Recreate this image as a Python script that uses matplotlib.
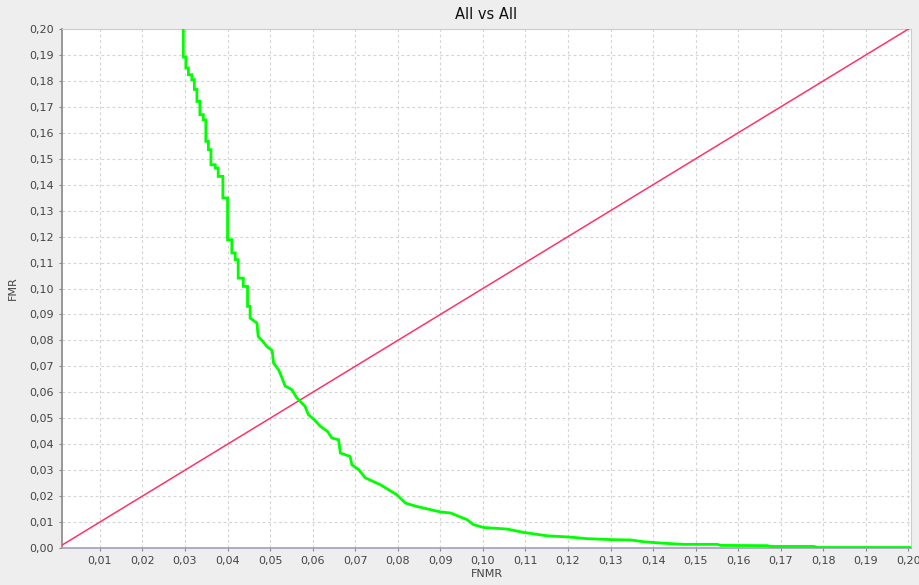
import numpy as np
import matplotlib.pyplot as plt
from matplotlib.ticker import FuncFormatter, MultipleLocator

# DET curve (FNMR, FMR)
fnmr = [0.0296, 0.0296, 0.0302, 0.0302, 0.0308, 0.0308, 0.0316, 0.0316, 0.0322, 0.0322,
        0.0328, 0.0328, 0.0335, 0.0335, 0.0343, 0.0343, 0.0349, 0.0349, 0.0355, 0.0355,
        0.0361, 0.0361, 0.0371, 0.0371, 0.0378, 0.0378, 0.0389, 0.0389, 0.0400, 0.0400,
        0.0410, 0.0410, 0.0418, 0.0418, 0.0425, 0.0425, 0.0437, 0.0437, 0.0447, 0.0447,
        0.0453, 0.0453, 0.0469, 0.0472, 0.0483, 0.0492, 0.0505, 0.0508, 0.0520, 0.0528,
        0.0535, 0.0551, 0.0563, 0.0582, 0.0590, 0.0604, 0.0618, 0.0635, 0.0645, 0.0661,
        0.0665, 0.0688, 0.0692, 0.0708, 0.0724, 0.0759, 0.0798, 0.0818, 0.0845, 0.0900,
        0.0924, 0.0963, 0.0978, 0.1002, 0.1057, 0.1096, 0.1151, 0.1206, 0.1245, 0.1308,
        0.1347, 0.1378, 0.1418, 0.1472, 0.1551, 0.1559, 0.1669, 0.1676, 0.1778, 0.1786,
        0.2006]
fmr = [0.2000, 0.1892, 0.1892, 0.1850, 0.1850, 0.1824, 0.1824, 0.1805, 0.1805, 0.1767,
       0.1767, 0.1721, 0.1721, 0.1670, 0.1670, 0.1650, 0.1650, 0.1567, 0.1567, 0.1535,
       0.1535, 0.1477, 0.1477, 0.1464, 0.1464, 0.1432, 0.1432, 0.1349, 0.1349, 0.1188,
       0.1188, 0.1137, 0.1137, 0.1111, 0.1111, 0.1040, 0.1040, 0.1008, 0.1008, 0.0931,
       0.0931, 0.0886, 0.0867, 0.0815, 0.0796, 0.0777, 0.0761, 0.0713, 0.0687, 0.0655,
       0.0625, 0.0610, 0.0578, 0.0546, 0.0514, 0.0494, 0.0469, 0.0449, 0.0424, 0.0417,
       0.0366, 0.0353, 0.0321, 0.0302, 0.0270, 0.0244, 0.0205, 0.0173, 0.0160, 0.0139,
       0.0135, 0.0109, 0.0090, 0.0079, 0.0073, 0.0060, 0.0047, 0.0042, 0.0036, 0.0032,
       0.0031, 0.0024, 0.0019, 0.0014, 0.0014, 0.0010, 0.0009, 0.0006, 0.0006, 0.0002,
       0.0002]

# equal error reference line
diag = [0.0011, 0.2006]

x_min, x_max = 0.0011, 0.2006
y_min, y_max = 0.0, 0.20

plt.rcParams['font.family'] = ['DejaVu Sans']

fig = plt.figure(figsize=(9.19, 5.85), dpi=100, facecolor='#EEEEEE')
ax = fig.add_axes([62 / 919, 1 - 548 / 585, (911 - 62) / 919, (548 - 29) / 585])
ax.set_facecolor('white')

ax.plot(diag, diag, color='#FF3366', lw=1.1, zorder=3)
ax.plot(fnmr, fmr, color='#00FF00', lw=2.0, solid_joinstyle='miter', zorder=4)

ax.set_xlim(x_min, x_max)
ax.set_ylim(y_min, y_max)
ax.xaxis.set_major_locator(MultipleLocator(0.01))
ax.yaxis.set_major_locator(MultipleLocator(0.01))
comma = FuncFormatter(lambda v, p: f"{v:.2f}".replace('.', ','))
ax.xaxis.set_major_formatter(comma)
ax.yaxis.set_major_formatter(comma)

ax.grid(True, color='#D4D4D4', linestyle=(0, (2.5, 2.5)), lw=0.8)
ax.set_axisbelow(True)

ax.tick_params(axis='both', length=2, width=0.8, color='#888888',
               labelsize=8, labelcolor='#444444', pad=4)

for side in ['top', 'right']:
    ax.spines[side].set_color('#CCCCCC')
    ax.spines[side].set_linewidth(0.8)
ax.spines['left'].set_color('#888888')
ax.spines['left'].set_linewidth(1.2)
ax.spines['bottom'].set_color('#A0A0B8')
ax.spines['bottom'].set_linewidth(1.2)

ax.set_title('All vs All', fontsize=10.5, color='#111111', pad=7)
ax.set_xlabel('FNMR', fontsize=8, color='#444444', labelpad=2)
ax.set_ylabel('FMR', fontsize=8, color='#444444', labelpad=8)

fig.savefig('out.png', dpi=100, facecolor=fig.get_facecolor())
